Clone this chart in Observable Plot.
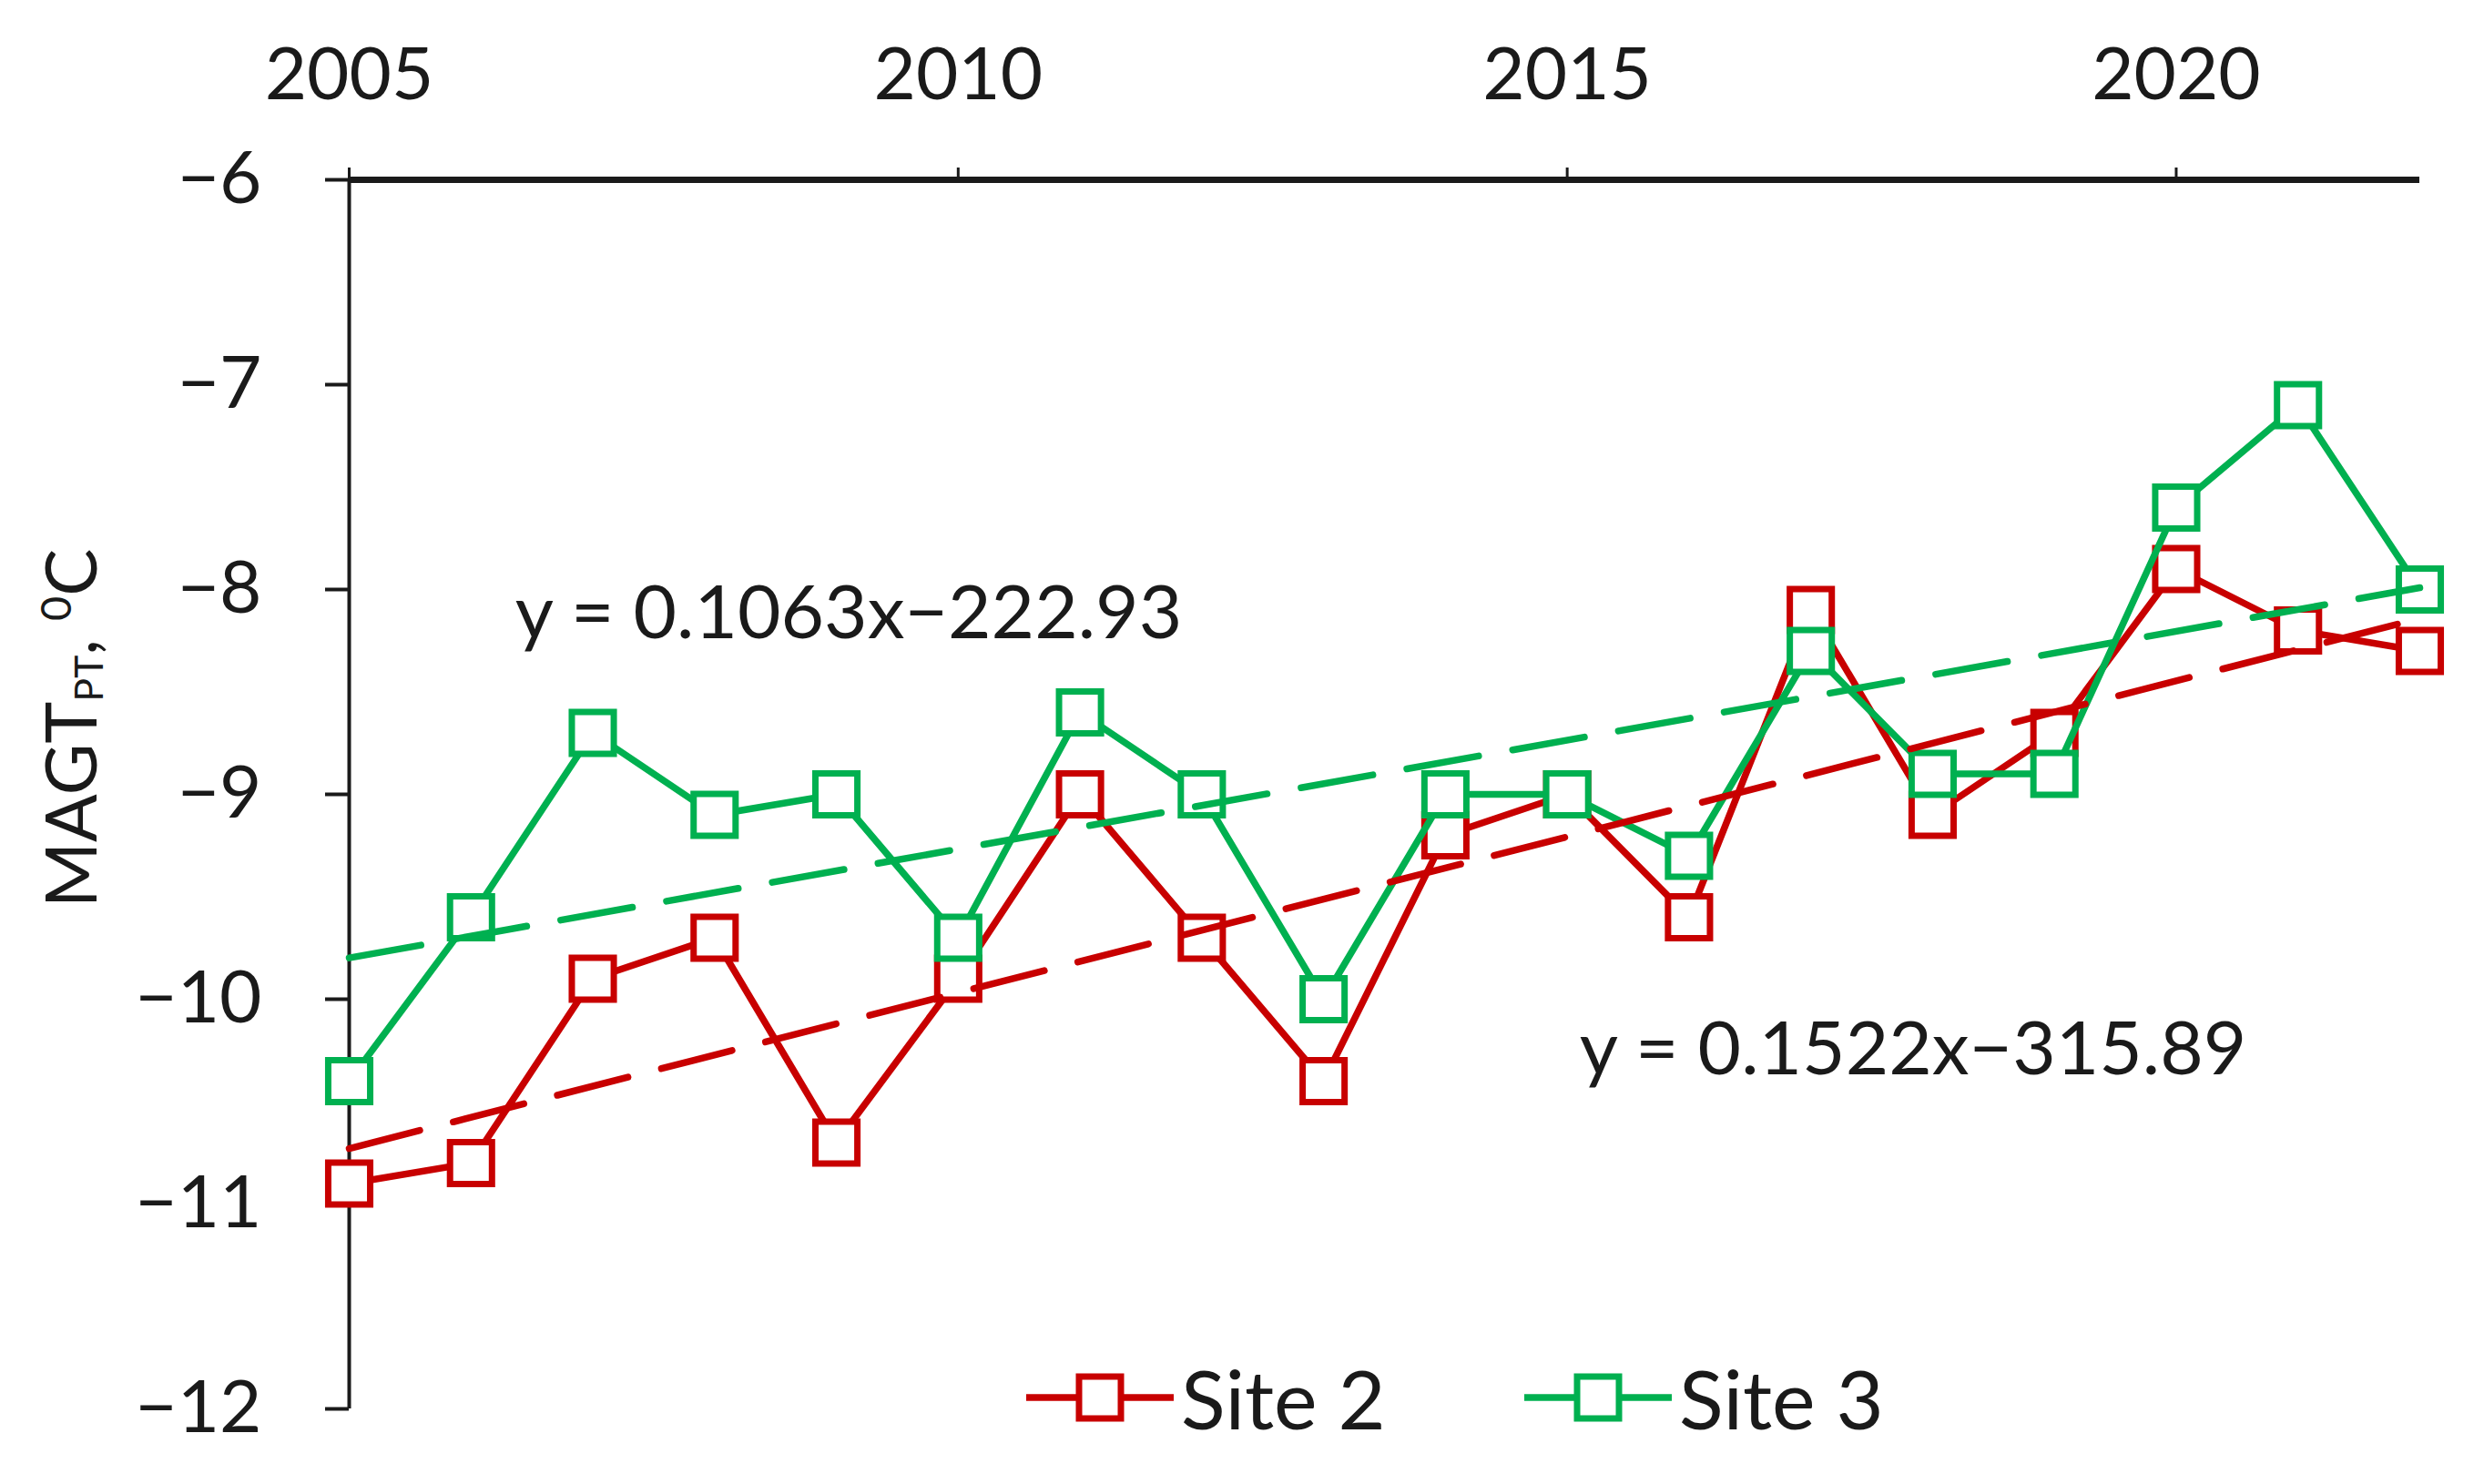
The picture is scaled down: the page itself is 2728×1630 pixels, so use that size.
<!DOCTYPE html>
<html><head><meta charset="utf-8">
<script src="https://cdn.jsdelivr.net/npm/d3@7"></script>
<script src="https://cdn.jsdelivr.net/npm/@observablehq/plot@0.6"></script>
<style>
html,body{margin:0;padding:0;background:#fff;}
#wrap{position:relative;width:2728px;height:1630px;font-family:Lato,sans-serif;color:#1a1a1a;overflow:hidden;}
#ylab{position:absolute;left:78px;top:800px;transform:translate(-50%,-50%) rotate(-90deg);white-space:nowrap;font-size:78px;line-height:1;}
#ylab sub{font-size:0.55em;vertical-align:-0.15em;}
#ylab sup{font-size:0.6em;vertical-align:0.6em;}
.leg{position:absolute;display:flex;align-items:center;font-size:90px;line-height:1;transform:translateY(-50%);}
.leg svg{margin-right:8px;}
</style></head><body><div id="wrap"><div id="chart"></div></div>
<script>
const years = [2005,2006,2007,2008,2009,2010,2011,2012,2013,2014,2015,2016,2017,2018,2019,2020,2021,2022];
const site2 = [-10.9,-10.8,-9.9,-9.7,-10.7,-9.9,-9.0,-9.7,-10.4,-9.2,-9.0,-9.6,-8.1,-9.1,-8.7,-7.9,-8.2,-8.3];
const site3 = [-10.4,-9.6,-8.7,-9.1,-9.0,-9.7,-8.6,-9.0,-10.0,-9.0,-9.0,-9.3,-8.3,-8.9,-8.9,-7.6,-7.1,-8.0];
const seriesNames = ["Site 2","Site 3"];
const seriesColors = ["#C80000","#00B050"];
const trendSlopes = [0.1522, 0.1063];
const trendIntercepts = [-315.89, -222.93];
const trendLabels = ["y = 0.1522x−315.89","y = 0.1063x−222.93"];
const xTicks = [2005,2010,2015,2020];
const yTicks = [-6,-7,-8,-9,-10,-11,-12];

const seriesValues = [site2, site3];
const rows = seriesNames.map((s,k)=>years.map((yr,i)=>({year:yr,value:seriesValues[k][i],series:s})));
const ends = [years[0], years[years.length-1]];
const trend = seriesNames.flatMap((s,k)=>ends.map(x=>({year:x,value:trendSlopes[k]*x+trendIntercepts[k],series:s})));
const yFmt = d => (d < 0 ? "−" : "") + Math.abs(d);

const chart = Plot.plot({
  width:2728, height:1630,
  marginLeft:383, marginRight:71, marginTop:197, marginBottom:83,
  style:{fontFamily:"Lato, sans-serif", fontSize:"80px", color:"#1a1a1a", background:"#fff", overflow:"visible"},
  x:{domain:[2005,2022], label:null},
  y:{domain:[-12,-6], label:null},
  color:{domain:seriesNames, range:seriesColors},
  marks:[
    Plot.axisX({anchor:"top", ticks:xTicks, tickFormat:d=>String(d), tickSize:14, tickPadding:75, strokeWidth:3, label:null}),
    Plot.axisY({ticks:yTicks, tickFormat:yFmt, tickSize:26, tickPadding:70, strokeWidth:4, label:null}),
    Plot.ruleX([2005],{stroke:"#1a1a1a", strokeWidth:4}),
    Plot.ruleY([-6],{stroke:"#1a1a1a", strokeWidth:7}),
    ...rows.flatMap((r,k)=>[
      Plot.line(r,{x:"year",y:"value",stroke:seriesColors[k],strokeWidth:7.5}),
      Plot.dot(r,{x:"year",y:"value",symbol:"square",r:26,stroke:seriesColors[k],strokeWidth:7,fill:"white"})
    ]),
    Plot.line(trend,{x:"year",y:"value",z:"series",stroke:"series",strokeWidth:7.5,strokeDasharray:"80,38"}),
    Plot.text([trendLabels[1]],{x:2009.1,y:-8.12,text:d=>d,fontSize:82,fill:"#1a1a1a"}),
    Plot.text([trendLabels[0]],{x:2017.84,y:-10.25,text:d=>d,fontSize:82,fill:"#1a1a1a"})
  ]
});
document.getElementById("chart").appendChild(chart);

const wrap = document.getElementById("wrap");
const ylab = document.createElement("div");
ylab.id = "ylab";
ylab.innerHTML = "MAGT<sub>PT</sub>, <sup>0</sup>C";
wrap.appendChild(ylab);

const legendLefts = [1127, 1674];
seriesNames.forEach((s,k)=>{
  const d = document.createElement("div");
  d.className = "leg";
  d.style.left = legendLefts[k]+"px";
  d.style.top = "1535px";
  const c = seriesColors[k];
  d.innerHTML = `<svg width="162" height="60" viewBox="0 0 162 60"><line x1="0" y1="30" x2="162" y2="30" stroke="${c}" stroke-width="7.5"/><rect x="58" y="7" width="46" height="46" fill="white" stroke="${c}" stroke-width="7"/></svg><span>${s}</span>`;
  wrap.appendChild(d);
});
</script>
</body></html>
